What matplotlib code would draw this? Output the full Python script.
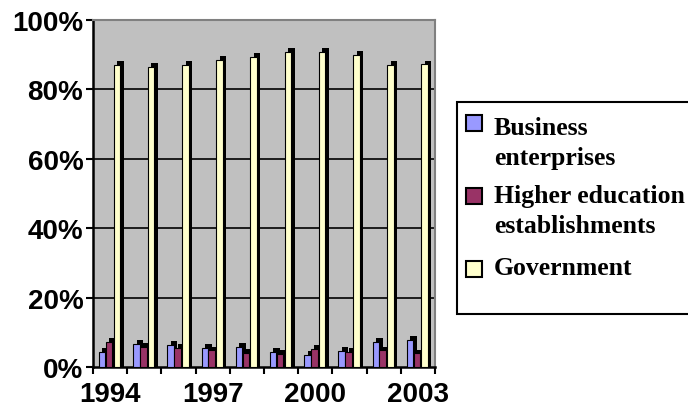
import matplotlib
matplotlib.use("Agg")
import matplotlib.pyplot as plt
import numpy as np
from matplotlib.patches import Rectangle

years = [1994, 1995, 1996, 1997, 1998, 1999, 2000, 2001, 2002, 2003]
business = [4.3, 6.6, 6.4, 5.4, 5.8, 4.3, 3.4, 4.6, 7.2, 7.8]
higher_ed = [7.3, 5.9, 5.6, 4.8, 4.0, 3.7, 5.3, 4.3, 4.8, 3.9]
government = [87.0, 86.4, 87.0, 88.4, 89.4, 90.8, 90.8, 89.9, 87.0, 87.2]
series_names = ["Business\nenterprises", "Higher education\nestablishments", "Government"]
colors = ["#9999ff", "#993366", "#ffffcc"]
shown_years = [1994, 1997, 2000, 2003]

W, H = 688, 410
fig = plt.figure(figsize=(W / 100, H / 100), dpi=100)
ax = fig.add_axes([93 / W, 1 - 368 / H, (435 - 93) / W, (368 - 21) / H])
ax.set_facecolor("#c0c0c0")

x = np.arange(len(years))
offsets = [0.27, 0.47, 0.70]
w = 0.19
dx, dy = 0.10, 1.1

# gridlines
for g in [20, 40, 60, 80]:
    ax.axhline(g, color="black", lw=1.2, zorder=1)

# bars with a black "depth" behind each one
for i, (vals, c) in enumerate(zip([business, higher_ed, government], colors)):
    ax.bar(x + offsets[i] + dx, np.array(vals) + dy, width=w, color="black",
           align="center", zorder=2 + 2 * i)
    ax.bar(x + offsets[i], vals, width=w, color=c, edgecolor="black",
           linewidth=0.8, align="center", zorder=3 + 2 * i)

ax.set_xlim(0, 10)
ax.set_ylim(0, 100)

tick_font = {"family": "Liberation Sans", "weight": "bold", "size": 20}
ax.set_yticks(np.arange(0, 101, 20))
ax.set_yticklabels([f"{v}%" for v in range(0, 101, 20)], fontdict=tick_font)
ax.set_xticks(np.arange(0, 11), minor=False)
ax.set_xticklabels([])
ax.set_xticks([years.index(y) + 0.5 for y in shown_years], minor=True)
ax.set_xticklabels([str(y) for y in shown_years], minor=True, fontdict=tick_font)
ax.tick_params(axis="x", which="minor", length=0, pad=10)
ax.tick_params(axis="both", which="major", length=5, width=1.5, direction="out")
ax.tick_params(axis="y", pad=2)

for s in ["top", "right"]:
    ax.spines[s].set_color("#808080")
    ax.spines[s].set_linewidth(1.5)
for s in ["left", "bottom"]:
    ax.spines[s].set_color("black")
    ax.spines[s].set_linewidth(1.8)

# legend drawn by hand: box runs past the right edge like the original
fig.patches.append(Rectangle((457 / W, 1 - 315 / H), (700 - 457) / W, (315 - 103) / H,
                             transform=fig.transFigure, facecolor="white",
                             edgecolor="black", linewidth=1.5, zorder=0))
handle_tops = [115, 188, 261]
text_tops = [117, 185, 257]
for ht, tt, name, c in zip(handle_tops, text_tops, series_names, colors):
    fig.patches.append(Rectangle((466 / W, 1 - (ht + 17) / H), 16 / W, 16 / H,
                                 transform=fig.transFigure, facecolor=c,
                                 edgecolor="black", linewidth=1.5, zorder=1))
    fig.text(494 / W, 1 - tt / H, name, ha="left", va="top",
             family="Liberation Serif", fontweight="bold", fontsize=18.5,
             linespacing=1.4)

fig.savefig("out.png", dpi=100)
